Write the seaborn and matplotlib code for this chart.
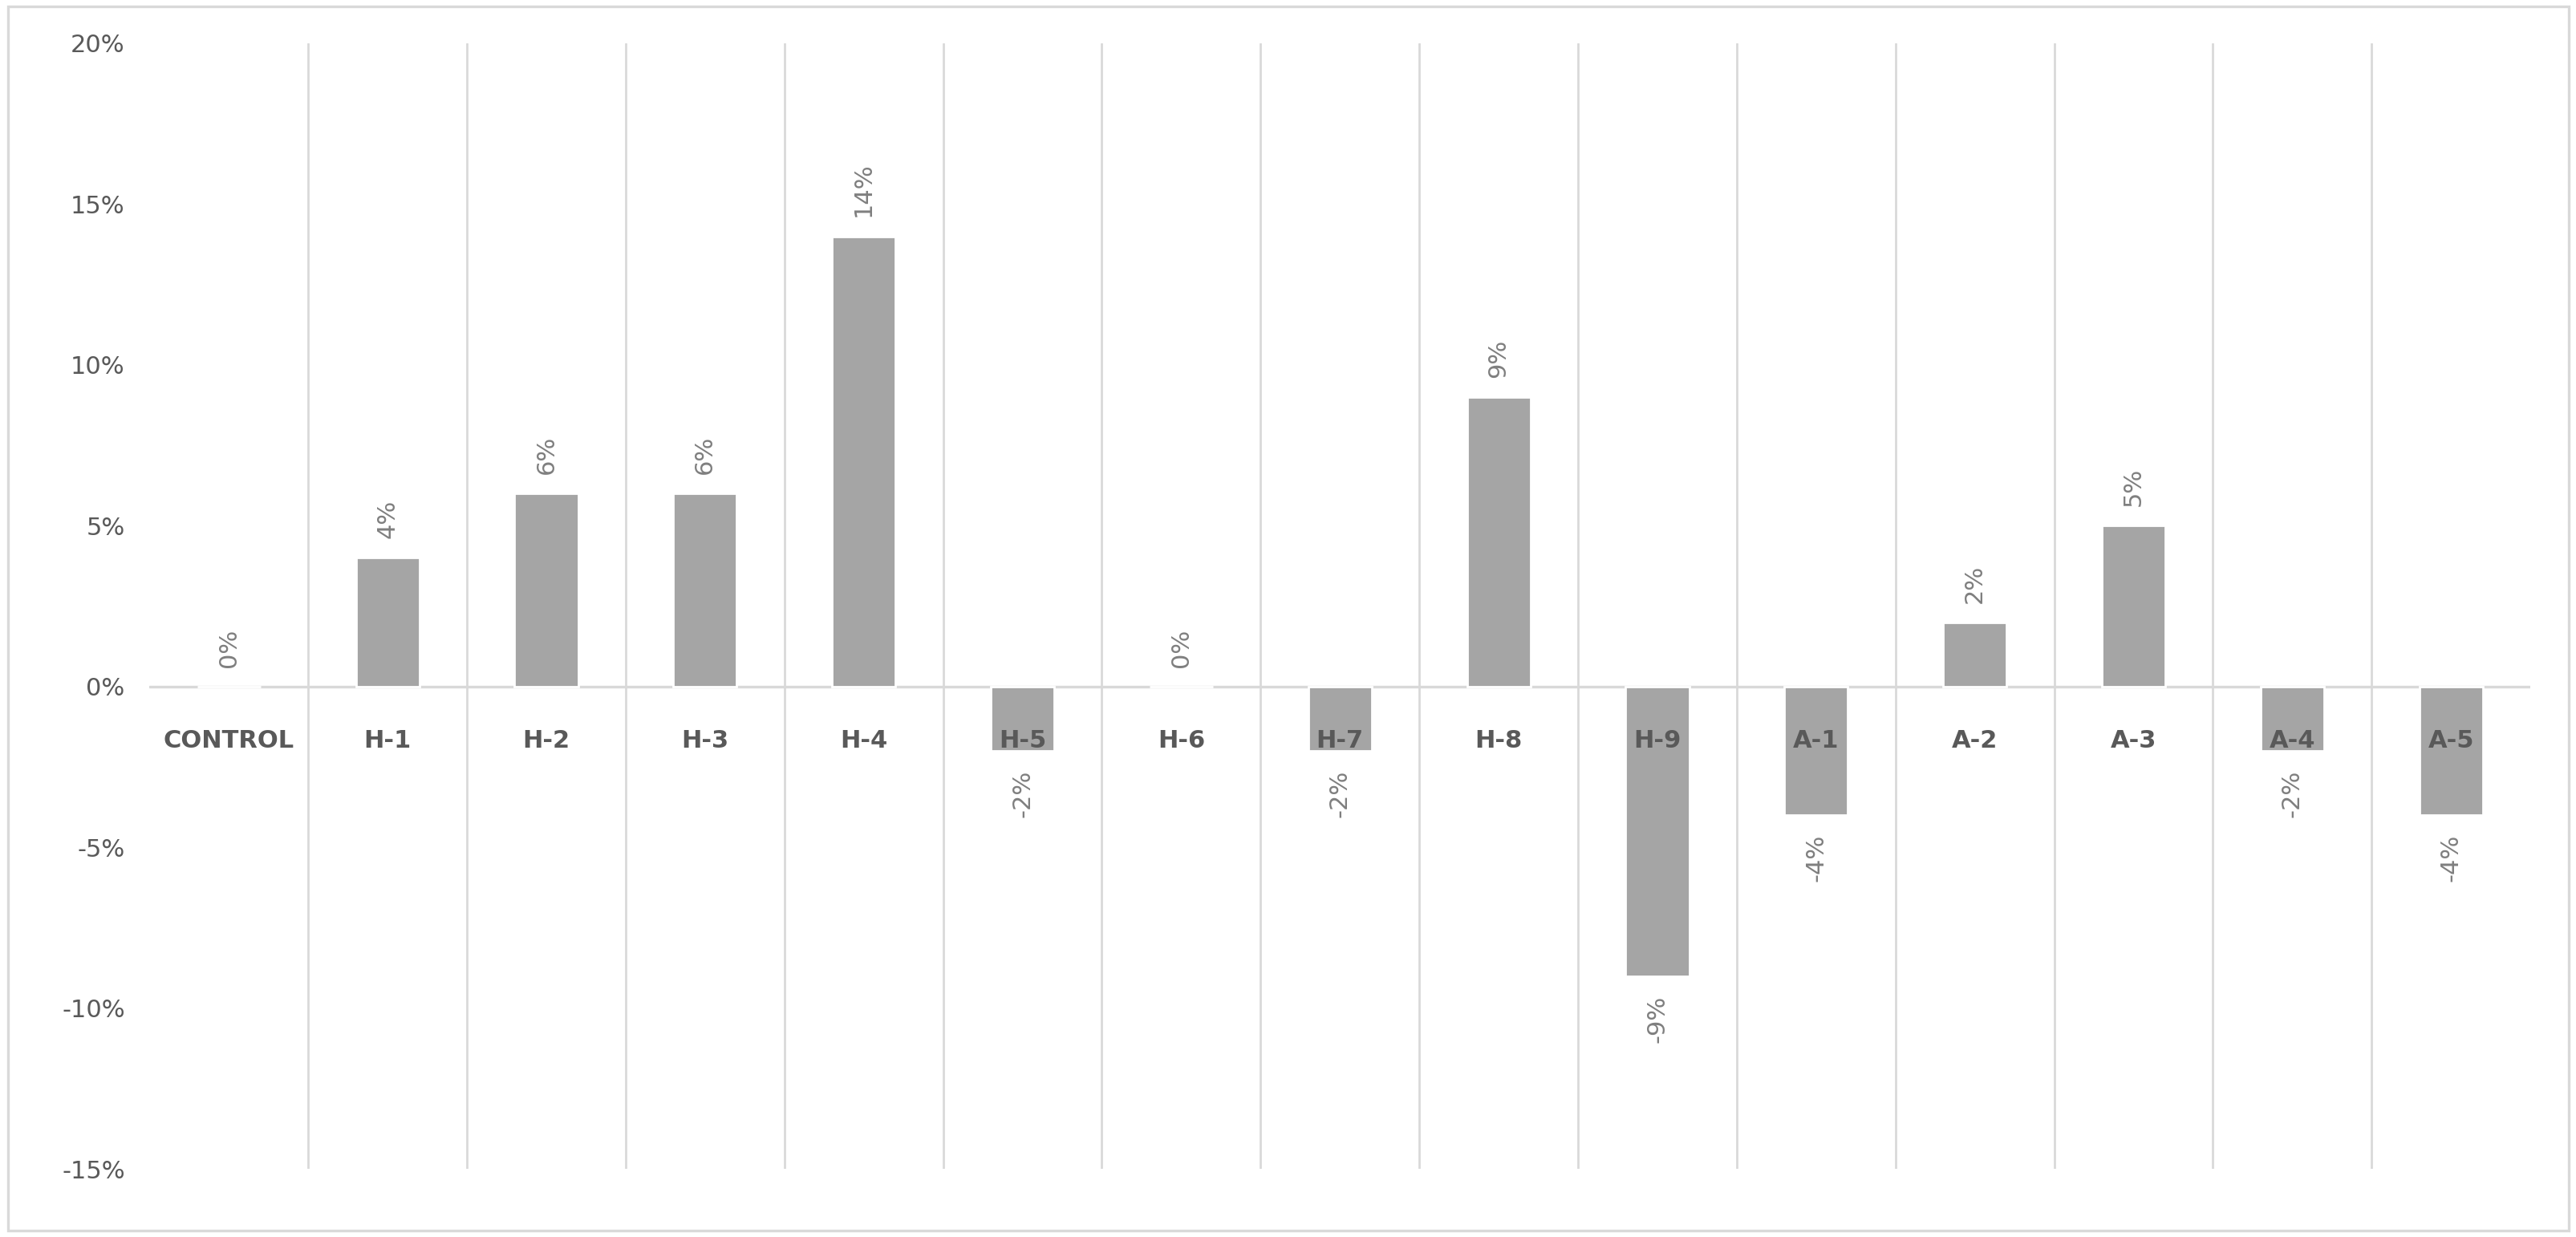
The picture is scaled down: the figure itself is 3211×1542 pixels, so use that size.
import numpy as np
import pandas as pd
import matplotlib.pyplot as plt
import seaborn as sns
from matplotlib.patches import Rectangle

categories = ["CONTROL", "H-1", "H-2", "H-3", "H-4", "H-5", "H-6", "H-7", "H-8", "H-9",
              "A-1", "A-2", "A-3", "A-4", "A-5"]
values = [0, 4, 6, 6, 14, -2, 0, -2, 9, -9, -4, 2, 5, -2, -4]
yticks = [-15, -10, -5, 0, 5, 10, 15, 20]

df = pd.DataFrame({"cat": categories, "val": values})

sns.set_style("white")
plt.rcParams["font.family"] = ["DejaVu Sans"]

fig = plt.figure(figsize=(16.06, 7.71), dpi=200)
ax = fig.add_axes([0.058, 0.055, 0.924, 0.91])
fig.patches.append(Rectangle((0.003, 0.005), 0.994, 0.99, transform=fig.transFigure,
                             fill=False, edgecolor="#d9d9d9", linewidth=1.2))

sns.barplot(data=df, x="cat", y="val", color="#a5a5a5", width=0.4, saturation=1, ax=ax)

ax.set_ylim(-15, 20)
ax.set_xlim(-0.5, len(categories) - 0.5)
ax.set_yticks(yticks)
ax.set_yticklabels([f"{t}%" for t in yticks], fontsize=11, color="#595959")
ax.tick_params(axis="y", length=5, color="#d9d9d9", pad=6)
ax.set_xticks([])
ax.set_xlabel("")
ax.set_ylabel("")
for s in ["top", "right", "bottom"]:
    ax.spines[s].set_visible(False)
ax.spines["left"].set_visible(False)

for b in np.arange(0.5, len(categories) - 0.5, 1):
    ax.axvline(b, color="#d9d9d9", linewidth=1, zorder=0)
ax.axhline(0, color="#d9d9d9", linewidth=1.2, zorder=0.5)

for i, (c, v) in enumerate(zip(categories, values)):
    ax.text(i, -1.7, c, ha="center", va="center", fontsize=11, fontweight="bold",
            color="#595959", zorder=3)
    if v >= 0:
        ax.text(i, v + 0.6, f"{v}%", rotation=90, ha="center", va="bottom",
                fontsize=11, color="#7f7f7f")
    else:
        ax.text(i, v - 0.6, f"{v}%", rotation=90, ha="center", va="top",
                fontsize=11, color="#7f7f7f")

fig.savefig("out.png", dpi=200)
